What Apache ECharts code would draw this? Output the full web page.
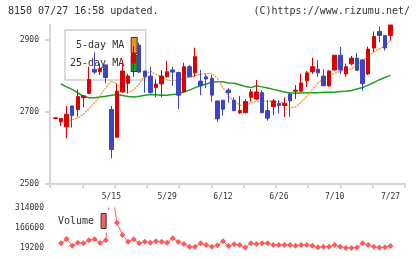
<!DOCTYPE html>
<html><head><meta charset="utf-8">
<script src="https://cdn.jsdelivr.net/npm/echarts@6/dist/echarts.min.js"></script>
<style>html,body{margin:0;padding:0;background:#fff}#c{width:420px;height:259px}</style>
</head><body><div id="c"></div>
<script>
const dates = ['4/27','4/28','4/30','5/1','5/7','5/8','5/11','5/12','5/13','5/14',
 '5/15','5/18','5/19','5/20','5/21','5/22','5/25','5/26','5/27','5/28',
 '5/29','6/1','6/2','6/3','6/4','6/5','6/8','6/9','6/10','6/11',
 '6/12','6/15','6/16','6/17','6/18','6/19','6/22','6/23','6/24','6/25',
 '6/26','6/29','6/30','7/1','7/2','7/3','7/6','7/7','7/8','7/9',
 '7/10','7/13','7/14','7/15','7/16','7/17','7/21','7/22','7/23','7/24','7/27'];
const labelIdx = [10,20,30,40,50,60];
const openP = [2682,2673,2659,2717,2707,2740,2752,2819,2812,2831,
 2707,2630,2756,2780,2836,2886,2814,2800,2768,2778,
 2798,2817,2810,2756,2826,2809,2786,2798,2794,2731,
 2733,2761,2733,2698,2698,2741,2736,2754,2704,2715,
 2724,2718,2750,2758,2758,2787,2812,2819,2800,2773,
 2817,2858,2806,2834,2850,2845,2806,2878,2924,2913,2913];
const closeP = [2684,2682,2694,2690,2743,2745,2791,2811,2821,2796,
 2596,2758,2814,2800,2864,2811,2798,2754,2778,2800,
 2812,2811,2747,2826,2798,2854,2773,2792,2747,2681,
 2708,2754,2704,2704,2729,2756,2756,2698,2683,2731,
 2718,2724,2731,2761,2781,2809,2826,2809,2773,2814,
 2858,2817,2826,2850,2816,2779,2875,2910,2913,2878,2942];
const lowP = [2682,2661,2627,2657,2687,2713,2750,2806,2803,2780,
 2571,2628,2754,2752,2798,2808,2754,2752,2741,2741,
 2796,2773,2708,2754,2797,2798,2747,2766,2729,2673,
 2690,2726,2702,2694,2696,2729,2733,2697,2676,2692,
 2696,2687,2687,2736,2757,2770,2806,2798,2772,2770,
 2816,2805,2798,2830,2815,2759,2803,2866,2894,2871,2898];
const highP = [2684,2683,2717,2717,2763,2747,2826,2866,2835,2832,
 2717,2777,2844,2806,2883,2893,2815,2826,2791,2817,
 2843,2826,2812,2837,2831,2879,2817,2805,2803,2731,
 2733,2766,2741,2744,2736,2764,2789,2761,2733,2736,
 2733,2741,2752,2775,2806,2814,2851,2844,2819,2816,
 2858,2881,2835,2856,2864,2847,2882,2924,2938,2914,2942];
const ma5 = ['-','-',2674,2679,2684,2694,2709,2726,2746,2767,
 2786,2778,2760,2754,2762,2778,2803,2814,2804,2798,
 2789,2787,2789,2793,2797,2801,2805,2807,2808,2793,
 2768,2743,2732,2719,2718,2725,2730,2731,2730,2729,
 2729,2724,2713,2714,2728,2743,2763,2780,2794,2802,
 2808,2813,2818,2819,2831,2842,2856,2867,2875,2883,2900];
const ma25 = ['-',2778,2770,2763,2753,2744,2740,2740,2742,2744,
 2747,2749,2746,2743,2742,2744,2747,2749,2748,2747,
 2747,2749,2750,2756,2761,2768,2773,2778,2783,2784,
 2784,2781,2780,2776,2771,2768,2773,2770,2767,2763,
 2759,2756,2753,2753,2753,2754,2754,2754,2755,2755,
 2755,2757,2758,2760,2764,2768,2775,2782,2790,2796,2802];
const volume = ['-',53800,85500,36200,58300,53800,75900,83300,56000,75900,
 490000,205700,115000,65600,83300,53800,65600,58300,68600,65600,
 58300,90700,63400,48700,28800,28800,53800,41300,28800,39100,
 68600,33900,46500,41300,22000,53800,48700,53800,53800,41300,
 41300,41300,41300,36200,41300,41300,36200,25000,28800,28800,
 41300,28800,20000,20000,22000,53800,41300,28800,22000,24000,33900];
const priceTicks = [2500,2700,2900];

const mono = 'DejaVu Sans Mono';
const candleData = openP.map((o,i)=>[o, closeP[i], lowP[i], highP[i]]);
const chart = echarts.init(document.getElementById('c'), null, {renderer:'canvas'});
const axisGray = '#d6d6d6';
const plain = (v)=>String(v);
chart.setOption({
  animation:false,
  backgroundColor:'#fff',
  title:[
    {text:'8150 07/27 16:58 updated.', left:8, top:6, padding:0,
     textStyle:{fontFamily:mono, fontSize:10, fontWeight:'normal', color:'#333'}},
    {text:'(C)https://www.rizumu.net/', right:10, top:6, padding:0,
     textStyle:{fontFamily:mono, fontSize:10, fontWeight:'normal', color:'#333'}}
  ],
  legend:[
    {data:[{name:'5-day MA', itemStyle:{color:'#f0901e'}},{name:'25-day MA', itemStyle:{color:'#1ea01e'}}],
     orient:'vertical', align:'right', left:65, top:30, padding:[7,8,8,5], itemGap:1,
     itemWidth:6, itemHeight:16, icon:'rect', selectedMode:false,
     backgroundColor:'#fff', borderColor:'#d0d0d0', borderWidth:1.5, z:1,
     itemStyle:{borderColor:'#333', borderWidth:1},
     textStyle:{fontFamily:mono, fontSize:10, color:'#333', padding:[0,2,0,0]}},
    {data:[{name:'Volume', itemStyle:{color:'#ff6060'}}],
     orient:'vertical', align:'right', left:53, top:210, padding:[3,3,4,5],
     itemWidth:5, itemHeight:15, icon:'rect', selectedMode:false,
     backgroundColor:'#fff', borderWidth:0, z:10,
     itemStyle:{borderColor:'#333', borderWidth:1},
     textStyle:{fontFamily:mono, fontSize:10, color:'#333', padding:[0,2,0,0]}}
  ],
  grid:[
    {left:52.7, right:26.7, top:25, bottom:75},
    {left:50, right:15, top:25, bottom:75},
    {left:52.7, right:26.7, top:208, bottom:11}
  ],
  xAxis:[
    {type:'category', gridIndex:0, data:dates, boundaryGap:true,
     axisLine:{show:false}, axisTick:{show:false}, splitLine:{show:false},
     axisLabel:{interval:(i)=>labelIdx.indexOf(i)>=0, fontFamily:mono, fontSize:8, color:'#333', margin:9}},
    {type:'value', gridIndex:1, min:0, max:11, interval:1,
     axisLine:{show:true, lineStyle:{color:axisGray, width:2}},
     axisTick:{show:true, length:4, lineStyle:{color:axisGray, width:2}},
     axisLabel:{show:false}, splitLine:{show:false}},
    {type:'category', gridIndex:2, data:dates, boundaryGap:true, show:false}
  ],
  yAxis:[
    {type:'value', gridIndex:0, min:2500, max:2942, show:false, splitLine:{show:false}},
    {type:'value', gridIndex:1, min:2500, max:2942, splitLine:{show:false},
     axisLine:{show:true, lineStyle:{color:axisGray, width:2}},
     axisTick:{show:true, length:5, customValues:priceTicks, lineStyle:{color:axisGray, width:2}},
     axisLabel:{customValues:priceTicks, formatter:plain, fontFamily:mono, fontSize:8, color:'#333', margin:11}},
    {type:'value', gridIndex:2, min:19200, max:314000, interval:147400, splitLine:{show:false},
     axisLine:{show:false}, axisTick:{show:false},
     axisLabel:{formatter:plain, fontFamily:mono, fontSize:8, color:'#333', margin:8.7}}
  ],
  series:[
    {name:'25-day MA', type:'line', xAxisIndex:0, yAxisIndex:0, data:ma25, showSymbol:false, symbol:'none', z:2,
     itemStyle:{color:'#1ea01e'}, lineStyle:{color:'#1ea01e', width:1.5}},
    {name:'5-day MA', type:'line', xAxisIndex:0, yAxisIndex:0, data:ma5, showSymbol:false, symbol:'none', z:2,
     itemStyle:{color:'#f0901e'}, lineStyle:{color:'#f0901e', width:1.2, type:[2,1]}},
    {name:'price', type:'candlestick', xAxisIndex:0, yAxisIndex:0, data:candleData, barWidth:4, z:3,
     itemStyle:{color:'#dd0000', color0:'#3c46c3', borderColor:'#dd0000', borderColor0:'#3c46c3', borderColorDoji:'#dd0000', borderWidth:1}},
    {name:'Volume', type:'line', xAxisIndex:2, yAxisIndex:2, data:volume, symbol:'diamond', symbolSize:6, showAllSymbol:true, z:2,
     itemStyle:{color:'#ff5a5a'}, lineStyle:{color:'#ff5a5a', width:1}}
  ]
});
</script></body></html>
